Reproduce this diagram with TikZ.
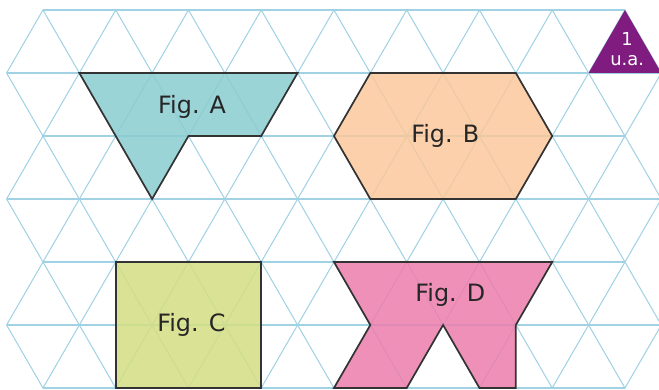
\documentclass[tikz,border=0pt]{standalone}
\usepackage{fontspec}
\setmainfont{DejaVu Sans}
\definecolor{latticeblue}{RGB}{160,210,228}
\definecolor{figA}{RGB}{137,204,208}
\definecolor{figB}{RGB}{250,200,155}
\definecolor{figC}{RGB}{212,222,130}
\definecolor{figD}{RGB}{236,125,172}
\definecolor{unitpurple}{RGB}{128,28,128}

\begin{document}
\begin{tikzpicture}[x={(1.5cm,0cm)},y={(0cm,-1.299cm)},
  lattice/.style={draw=latticeblue,line width=0.6pt},
  figure/.style={draw=black!80,line width=1pt,fill opacity=0.85},
  figlabel/.style={font=\fontsize{14}{16}\selectfont,text=black!85}]
  \useasboundingbox (-0.0907,-0.1587) rectangle (8.968,6.0317);
  \clip (-0.0907,-0.1587) rectangle (8.968,6.0317);
  % triangular lattice
  \foreach \r in {0,2,4,6}
    \draw[lattice] (0.5,\r) -- (8.5,\r);
  \foreach \r in {1,3,5}
    \draw[lattice] (0,\r) -- (9,\r);
  \foreach \r in {0,2,4}
    \foreach \i in {0,...,8}
      \draw[lattice] (\i,\r+1) -- (\i+0.5,\r) -- (\i+1,\r+1);
  \foreach \r in {2,4,6}
    \foreach \i in {0,...,8}
      \draw[lattice] (\i,\r-1) -- (\i+0.5,\r) -- (\i+1,\r-1);
  % unit triangle
  \fill[unitpurple]
    (8.5,0)
    --
    (8,1)
    --
    (9,1)
    --
    cycle;
  \node[font=\fontsize{10.5}{12}\selectfont,text=white,align=center,inner sep=0pt]
    (ua) at (8.53,0.62) {1\\u.a.};
  % Fig. A
  \draw[figure,fill=figA]
    (1,1)
    --
    (4,1)
    --
    (3.5,2)
    --
    (2.5,2)
    --
    (2,3)
    --
    cycle;
  \node[figlabel] (labelA) at (2.55,1.54) {Fig. A};
  % Fig. B
  \draw[figure,fill=figB]
    (5,1)
    --
    (7,1)
    --
    (7.5,2)
    --
    (7,3)
    --
    (5,3)
    --
    (4.5,2)
    --
    cycle;
  \node[figlabel] (labelB) at (6.03,2) {Fig. B};
  % Fig. C
  \draw[figure,fill=figC]
    (1.5,4)
    --
    (3.5,4)
    --
    (3.5,6)
    --
    (1.5,6)
    --
    cycle;
  \node[figlabel] (labelC) at (2.54,5) {Fig. C};
  % Fig. D
  \draw[figure,fill=figD]
    (4.5,4)
    --
    (7.5,4)
    --
    (7,5)
    --
    (7,6)
    --
    (6.5,6)
    --
    (6,5)
    --
    (5.5,6)
    --
    (4.5,6)
    --
    (5,5)
    --
    cycle;
  \node[figlabel] (labelD) at (6.1,4.52) {Fig. D};
\end{tikzpicture}
\end{document}
